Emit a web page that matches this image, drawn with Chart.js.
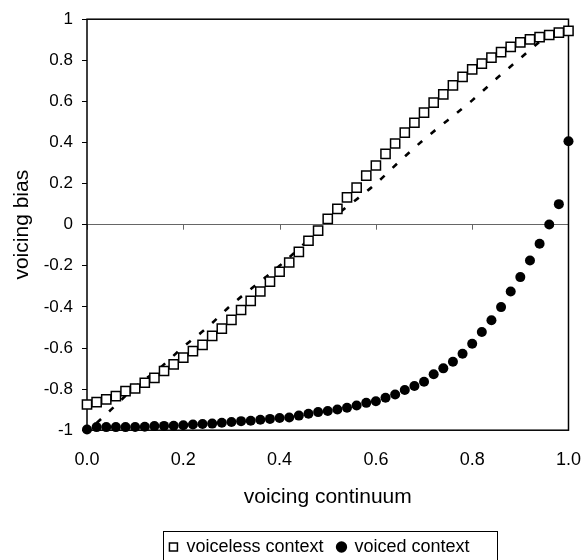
<!DOCTYPE html>
<html>
<head>
<meta charset="utf-8">
<script src="https://cdn.jsdelivr.net/npm/chart.js@4/dist/chart.umd.min.js"></script>
<style>
  html, body { margin: 0; padding: 0; background: #fff; }
</style>
</head>
<body>
<canvas id="graficoSesgo" width="583" height="560"></canvas>
<script>
// Datos
var continuo = [0, 0.02, 0.04, 0.06, 0.08, 0.1, 0.12, 0.14, 0.16, 0.18,
   0.2, 0.22, 0.24, 0.26, 0.28, 0.3, 0.32, 0.34, 0.36, 0.38,
   0.4, 0.42, 0.44, 0.46, 0.48, 0.5, 0.52, 0.54, 0.56, 0.58,
   0.6, 0.62, 0.64, 0.66, 0.68, 0.7, 0.72, 0.74, 0.76, 0.78,
   0.8, 0.82, 0.84, 0.86, 0.88, 0.9, 0.92, 0.94, 0.96, 0.98, 1];

var contextoSordo = [-0.875, -0.863, -0.85, -0.834, -0.81, -0.797, -0.769, -0.745, -0.712, -0.68,
   -0.647, -0.615, -0.585, -0.541, -0.506, -0.463, -0.415, -0.371, -0.325, -0.277,
   -0.229, -0.184, -0.132, -0.078, -0.029, 0.028, 0.077, 0.133, 0.18, 0.239,
   0.288, 0.345, 0.395, 0.448, 0.496, 0.545, 0.594, 0.634, 0.678, 0.719,
   0.756, 0.784, 0.813, 0.84, 0.865, 0.887, 0.902, 0.913, 0.923, 0.935, 0.943];

var contextoSonoro = [-0.997, -0.985, -0.985, -0.985, -0.985, -0.984, -0.983, -0.98, -0.979, -0.978,
   -0.976, -0.972, -0.97, -0.968, -0.964, -0.96, -0.956, -0.954, -0.949, -0.945,
   -0.941, -0.938, -0.929, -0.92, -0.912, -0.907, -0.899, -0.891, -0.88, -0.867,
   -0.859, -0.842, -0.826, -0.804, -0.785, -0.764, -0.728, -0.699, -0.667, -0.628,
   -0.579, -0.522, -0.465, -0.401, -0.325, -0.255, -0.174, -0.093, 0.001, 0.1, 0.406];

// curva discontinua
var curvaX = [0.02, 0.05, 0.1, 0.15, 0.2, 0.25, 0.3, 0.35, 0.4, 0.45, 0.5,
   0.55, 0.6, 0.65, 0.7, 0.75, 0.8, 0.85, 0.9, 0.95, 0.98];
var curvaY = [-0.965, -0.9, -0.79, -0.7, -0.595, -0.5, -0.39, -0.295, -0.2, -0.095, 0.015,
   0.105, 0.2, 0.31, 0.415, 0.51, 0.605, 0.71, 0.81, 0.91, 0.965];

var etiquetasX = ['0.0', '0.2', '0.4', '0.6', '0.8', '1.0'];
var etiquetasY = ['-1', '-0.8', '-0.6', '-0.4', '-0.2', '0', '0.2', '0.4', '0.6', '0.8', '1'];

var fuente = 'Arial, "Liberation Sans", sans-serif';

function aPuntos(xs, ys) {
   return xs.map(function (x, i) { return { x: x, y: ys[i] }; });
}

// marco del área de trazado, línea de cero con sus marcas y recuadro de la leyenda
var marcoPlugin = {
   id: 'marco',
   afterLayout: function (chart) {
      chart.legend.left += 28;
      chart.legend.right += 28;
      chart.legend.top += 8;
      chart.legend.bottom += 8;
   },
   beforeDatasetsDraw: function (chart) {
      var ctx = chart.ctx;
      var area = chart.chartArea;
      var ejeX = chart.scales.x;
      var y0 = chart.scales.y.getPixelForValue(0);
      ctx.save();
      ctx.strokeStyle = '#666';
      ctx.lineWidth = 1;
      ejeX.ticks.forEach(function (t) {
         var px = Math.round(ejeX.getPixelForValue(t.value)) + 0.5;
         ctx.beginPath();
         ctx.moveTo(px, y0);
         ctx.lineTo(px, y0 + 5);
         ctx.stroke();
      });
      ctx.strokeStyle = '#000';
      ctx.lineWidth = 1.5;
      ctx.strokeRect(area.left, area.top, area.right - area.left, area.bottom - area.top);
      ctx.restore();
   },
   afterDraw: function (chart) {
      var cajas = chart.legend.legendHitBoxes;
      if (!cajas || !cajas.length) return;
      var izq = Math.min.apply(null, cajas.map(function (c) { return c.left; }));
      var der = Math.max.apply(null, cajas.map(function (c) { return c.left + c.width; }));
      var arriba = Math.min.apply(null, cajas.map(function (c) { return c.top; }));
      var abajo = Math.max.apply(null, cajas.map(function (c) { return c.top + c.height; }));
      var ctx = chart.ctx;
      ctx.save();
      ctx.strokeStyle = '#000';
      ctx.lineWidth = 1;
      ctx.strokeRect(Math.round(izq - 6) + 0.5, Math.round(arriba - 7) + 0.5,
         Math.round(der - izq + 34), Math.round(abajo - arriba + 14));
      ctx.restore();
   }
};

var ctxSesgo = document.getElementById('graficoSesgo').getContext('2d');

var miGraficoSesgo = new Chart(ctxSesgo, {
   type: 'scatter',
   data: {
      datasets: [{
         label: 'voiceless context',
         data: aPuntos(continuo, contextoSordo),
         pointStyle: 'rect',
         pointRadius: 6.5,
         pointBackgroundColor: '#fff',
         pointBorderColor: '#000',
         pointBorderWidth: 1.5,
         backgroundColor: '#fff',
         borderColor: '#000',
         clip: false
      }, {
         label: 'voiced context',
         data: aPuntos(continuo, contextoSonoro),
         pointStyle: 'circle',
         pointRadius: 5,
         pointBackgroundColor: '#000',
         pointBorderColor: '#000',
         pointBorderWidth: 0,
         backgroundColor: '#000',
         borderColor: '#000',
         clip: false
      }, {
         label: 'curva',
         data: aPuntos(curvaX, curvaY),
         showLine: true,
         pointRadius: 0,
         borderColor: '#000',
         borderWidth: 2.6,
         borderDash: [6, 11],
         tension: 0.4,
         cubicInterpolationMode: 'monotone',
         fill: false
      }]
   },
   options: {
      responsive: false,
      animation: false,
      layout: {
         autoPadding: false,
         padding: { left: 0, right: 0, top: 19, bottom: 2 }
      },
      scales: {
         x: {
            type: 'linear',
            min: 0,
            max: 1,
            ticks: {
               stepSize: 0.2,
               padding: 2,
               color: '#000',
               font: { family: fuente, size: 18 },
               callback: function (value, index) {
                  return etiquetasX[index];
               }
            },
            grid: { display: false, drawTicks: true, tickLength: 17 },
            border: { display: false },
            title: {
               display: true,
               text: 'voicing continuum',
               color: '#000',
               font: { family: fuente, size: 21 },
               padding: { top: 12, bottom: 6 }
            }
         },
         y: {
            min: -1,
            max: 1,
            afterFit: function (escala) {
               escala.width = 87;
            },
            ticks: {
               stepSize: 0.2,
               padding: 9,
               color: '#000',
               font: { family: fuente, size: 17 },
               callback: function (value, index) {
                  return etiquetasY[index];
               }
            },
            grid: {
               drawTicks: true,
               tickLength: 5,
               tickColor: '#000',
               lineWidth: 1,
               color: function (c) {
                  return c.tick && c.tick.value === 0 ? '#666' : 'rgba(0,0,0,0)';
               }
            },
            border: { display: false },
            title: {
               display: true,
               text: 'voicing bias',
               color: '#000',
               font: { family: fuente, size: 21 },
               padding: { top: 10, bottom: 0 }
            }
         }
      },
      plugins: {
         tooltip: { enabled: false },
         legend: {
            display: true,
            position: 'bottom',
            labels: {
               usePointStyle: true,
               boxWidth: 8,
               boxHeight: 8,
               padding: 14,
               color: '#000',
               font: { family: fuente, size: 18 },
               filter: function (item) {
                  return item.datasetIndex < 2;
               }
            }
         }
      }
   },
   plugins: [marcoPlugin]
});
</script>
</body>
</html>
